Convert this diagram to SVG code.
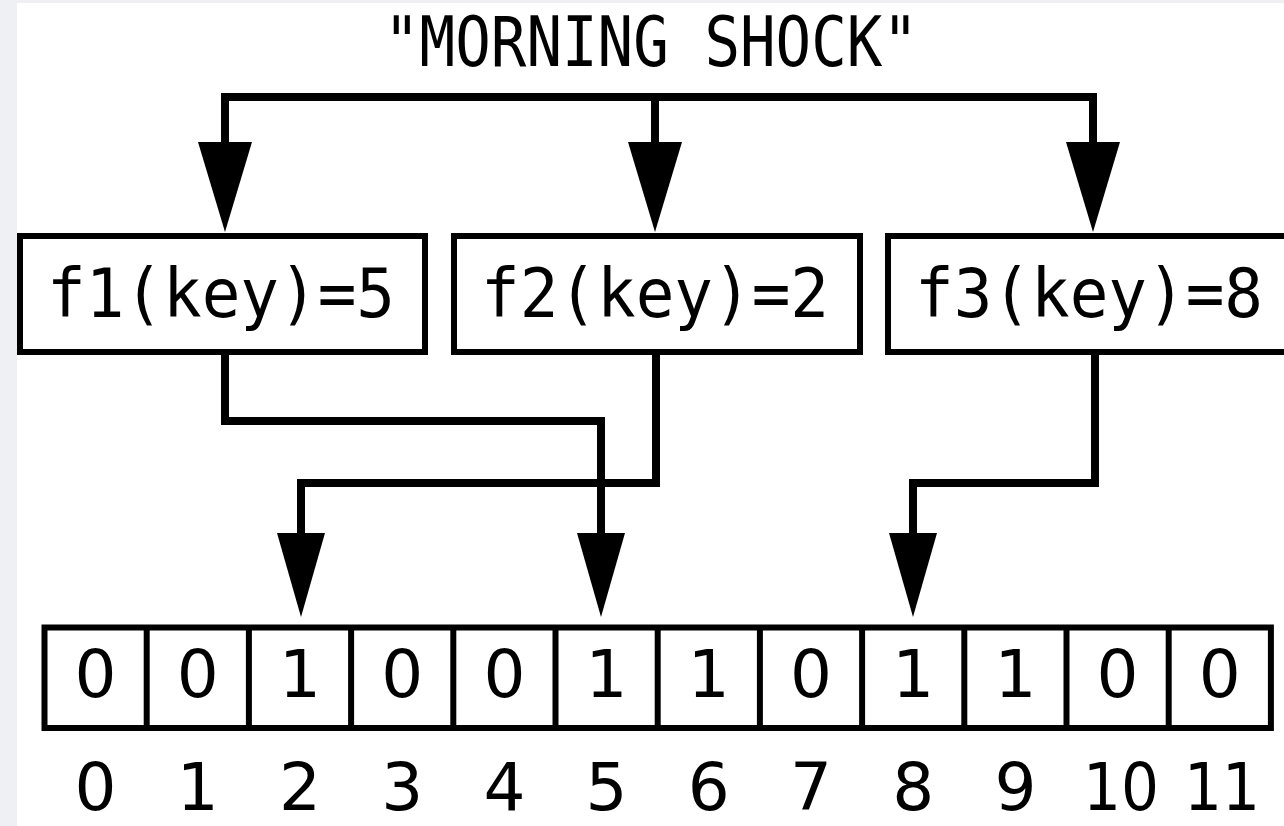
<svg xmlns="http://www.w3.org/2000/svg" width="1284" height="826" viewBox="0 0 1284 826">
<style>
.bg{fill:#eef0f3}
.paper{fill:#ffffff}
.box{fill:#ffffff;stroke:#000;stroke-width:6}
.wire{fill:none;stroke:#000;stroke-width:8;stroke-linejoin:miter}
.head{fill:#000}
.t{font-family:"DejaVu Sans Mono","Liberation Mono",monospace;fill:#000;text-anchor:middle}
.n{font-family:"DejaVu Sans","Liberation Sans",sans-serif;fill:#000;text-anchor:middle}
.big{font-size:70px}
.lbl{font-size:67px}
.dig{font-size:66px}
.div{stroke:#000;stroke-width:6}
</style>
<rect class="bg" x="0" y="0" width="1284" height="826"/>
<rect class="paper" x="17" y="3" width="1267" height="823"/>
<g id="title"><text class="t big" x="651" y="66" textLength="534" lengthAdjust="spacingAndGlyphs">"MORNING SHOCK"</text></g>
<g id="connectors">
<path class="wire" d="M225,144 V97 H1093 V144 M655,97 V144"/>
<polygon class="head" points="198,142 252,142 225,232"/>
<polygon class="head" points="628,142 682,142 655,232"/>
<polygon class="head" points="1066,142 1120,142 1093,232"/>
<path class="wire" d="M225,355 V421 H601 V535"/>
<path class="wire" d="M656,355 V483 H301 V535"/>
<path class="wire" d="M1095,355 V483 H913 V535"/>
<polygon class="head" points="577,533 625,533 601,617"/>
<polygon class="head" points="277,533 325,533 301,617"/>
<polygon class="head" points="889,533 937,533 913,617"/>
</g>
<g id="f1"><rect class="box" x="20" y="236" width="405" height="116"/><text class="t lbl" x="221" y="317" textLength="348" lengthAdjust="spacingAndGlyphs">f1(key)=5</text></g>
<g id="f2"><rect class="box" x="454" y="236" width="406" height="116"/><text class="t lbl" x="655" y="317" textLength="348" lengthAdjust="spacingAndGlyphs">f2(key)=2</text></g>
<g id="f3"><rect class="box" x="888" y="236" width="410" height="116"/><text class="t lbl" x="1089" y="317" textLength="348" lengthAdjust="spacingAndGlyphs">f3(key)=8</text></g>
<g id="bitarray">
<rect class="box" x="44.5" y="627.5" width="1226.4" height="100.5"/>
<line class="div" x1="146.7" y1="627" x2="146.7" y2="728"/>
<line class="div" x1="248.9" y1="627" x2="248.9" y2="728"/>
<line class="div" x1="351.1" y1="627" x2="351.1" y2="728"/>
<line class="div" x1="453.3" y1="627" x2="453.3" y2="728"/>
<line class="div" x1="555.5" y1="627" x2="555.5" y2="728"/>
<line class="div" x1="657.7" y1="627" x2="657.7" y2="728"/>
<line class="div" x1="759.9" y1="627" x2="759.9" y2="728"/>
<line class="div" x1="862.1" y1="627" x2="862.1" y2="728"/>
<line class="div" x1="964.3" y1="627" x2="964.3" y2="728"/>
<line class="div" x1="1066.5" y1="627" x2="1066.5" y2="728"/>
<line class="div" x1="1168.7" y1="627" x2="1168.7" y2="728"/>
<g class="n dig">
<text x="95.6" y="697">0</text>
<text x="197.8" y="697">0</text>
<text x="300" y="697">1</text>
<text x="402.2" y="697">0</text>
<text x="504.4" y="697">0</text>
<text x="606.6" y="697">1</text>
<text x="708.8" y="697">1</text>
<text x="811" y="697">0</text>
<text x="913.2" y="697">1</text>
<text x="1015.4" y="697">1</text>
<text x="1117.6" y="697">0</text>
<text x="1219.8" y="697">0</text>
</g>
</g>
<g id="indices" class="n dig">
<text x="95.6" y="810">0</text>
<text x="197.8" y="810">1</text>
<text x="300" y="810">2</text>
<text x="402.2" y="810">3</text>
<text x="504.4" y="810">4</text>
<text x="606.6" y="810">5</text>
<text x="708.8" y="810">6</text>
<text x="811" y="810">7</text>
<text x="913.2" y="810">8</text>
<text x="1015.4" y="810">9</text>
<text x="1121" y="810" textLength="76" lengthAdjust="spacingAndGlyphs">10</text>
<text x="1222" y="810" textLength="76" lengthAdjust="spacingAndGlyphs">11</text>
</g>
</svg>
